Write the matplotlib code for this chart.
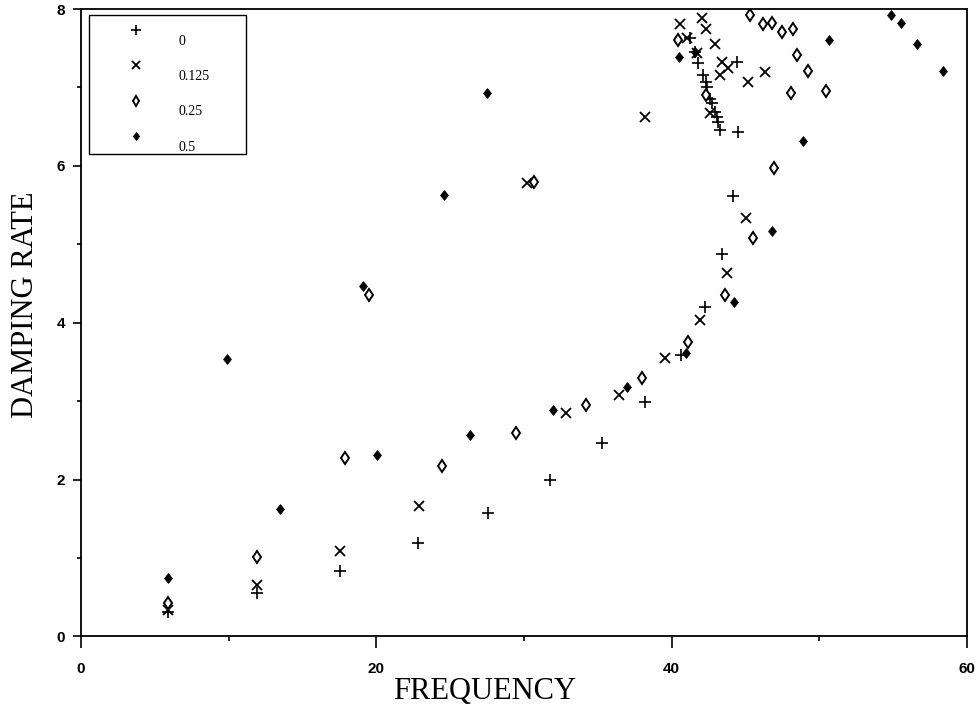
import matplotlib
matplotlib.use("Agg")
import matplotlib.pyplot as plt
from matplotlib.ticker import MultipleLocator

labels = ["0", "0.125", "0.25", "0.5"]

freq_0 = [5.89, 11.92, 17.54, 22.82, 27.56, 31.75, 35.27, 38.19, 40.62, 42.25, 43.40, 44.14, 44.48,
          43.26, 43.13, 43.06, 42.92, 42.72, 42.58, 42.38, 42.31, 42.11, 41.77, 41.57, 41.23, 44.41]
damp_0 = [0.31, 0.55, 0.84, 1.19, 1.58, 2.00, 2.47, 2.99, 3.59, 4.20, 4.87, 5.61, 6.43,
          6.46, 6.56, 6.62, 6.69, 6.80, 6.85, 7.00, 7.07, 7.16, 7.31, 7.45, 7.63, 7.32]

freq_125 = [5.89, 11.92, 17.54, 22.88, 32.84, 36.43, 39.54, 41.91, 43.74, 45.02, 30.20, 38.19,
            42.59, 40.56, 42.05, 42.31, 41.06, 42.92, 41.70, 43.40, 43.81, 43.26, 45.16, 46.31]
damp_125 = [0.34, 0.66, 1.09, 1.66, 2.85, 3.08, 3.55, 4.03, 4.63, 5.33, 5.78, 6.62,
            6.67, 7.81, 7.88, 7.74, 7.63, 7.56, 7.44, 7.32, 7.25, 7.16, 7.07, 7.20]

freq_25 = [5.89, 11.92, 17.87, 24.44, 29.45, 34.19, 37.98, 41.10, 43.60, 45.50, 46.92, 30.67, 19.50,
           45.29, 46.17, 46.78, 47.46, 48.21, 48.48, 49.22, 48.07, 50.44, 40.42, 42.31]
damp_25 = [0.43, 1.01, 2.28, 2.17, 2.59, 2.95, 3.30, 3.76, 4.35, 5.08, 5.97, 5.79, 4.35,
           7.92, 7.81, 7.82, 7.71, 7.75, 7.41, 7.21, 6.93, 6.96, 7.60, 6.90]

freq_5 = [5.89, 9.88, 13.47, 19.09, 20.04, 24.58, 26.34, 27.49, 31.96, 36.97, 40.96, 44.21, 46.78,
          48.88, 50.64, 54.84, 55.52, 56.60, 58.36, 40.49, 41.57]
damp_5 = [0.75, 3.54, 1.63, 4.47, 2.32, 5.63, 2.57, 6.93, 2.89, 3.18, 3.62, 4.26, 5.17,
          6.32, 7.60, 7.92, 7.82, 7.55, 7.21, 7.39, 7.45]

filled_diamond = [(0, 1), (0.8, 0), (0, -1), (-0.8, 0), (0, 1)]

fig = plt.figure(figsize=(9.77, 7.09), dpi=100)
ax = fig.add_axes([0.0829, 0.1023, 0.9069, 0.885])

ax.plot(freq_0, damp_0, linestyle="none", marker="+", markersize=8.6, mew=1.2,
        color="black", label=labels[0])
ax.plot(freq_125, damp_125, linestyle="none", marker="x", markersize=7.5, mew=1.3,
        color="black", label=labels[1])
ax.plot(freq_25, damp_25, linestyle="none", marker="d", markersize=6.5, mew=1.4,
        markerfacecolor="white", markeredgecolor="black", label=labels[2])
ax.plot(freq_5, damp_5, linestyle="none", marker=filled_diamond, markersize=7.0, mew=0.6,
        color="black", label=labels[3])

ax.set_xlim(0, 60)
ax.set_ylim(0, 8)
ax.xaxis.set_major_locator(MultipleLocator(20))
ax.xaxis.set_minor_locator(MultipleLocator(10))
ax.yaxis.set_major_locator(MultipleLocator(2))
ax.yaxis.set_minor_locator(MultipleLocator(1))
ax.tick_params(which="both", direction="out", width=1.2)
ax.tick_params(axis="y", which="major", length=6, pad=5.5)
ax.tick_params(axis="y", which="minor", length=3)
ax.tick_params(axis="x", which="major", length=8.4, pad=10)
ax.tick_params(axis="x", which="minor", length=3.8)
for lab in ax.get_xticklabels() + ax.get_yticklabels():
    lab.set_fontfamily("Liberation Sans")
    lab.set_fontweight("bold")
    lab.set_fontsize(11)
for sp in ax.spines.values():
    sp.set_linewidth(1.3)

ax.set_xlabel("FREQUENCY", fontfamily="Liberation Serif", fontsize=22)
ax.set_ylabel("DAMPING RATE", fontfamily="Liberation Serif", fontsize=22)
ax.xaxis.set_label_coords(0.456, -0.0645)
ax.yaxis.set_label_coords(-0.046, 0.528)

leg = ax.legend(loc="upper left", bbox_to_anchor=(0.009, 0.769, 0.177, 0.2214),
                mode="expand", borderaxespad=0,
                fancybox=False, edgecolor="black", framealpha=1,
                prop={"family": "Liberation Serif", "size": 10},
                labelspacing=1.6, borderpad=0.72, handletextpad=0.36,
                handlelength=5.4, numpoints=1, markerscale=0.8)
leg.get_frame().set_linewidth(1.0)
for t in leg.get_texts():
    t.set_verticalalignment("top")

fig.savefig("out.png", dpi=100)
